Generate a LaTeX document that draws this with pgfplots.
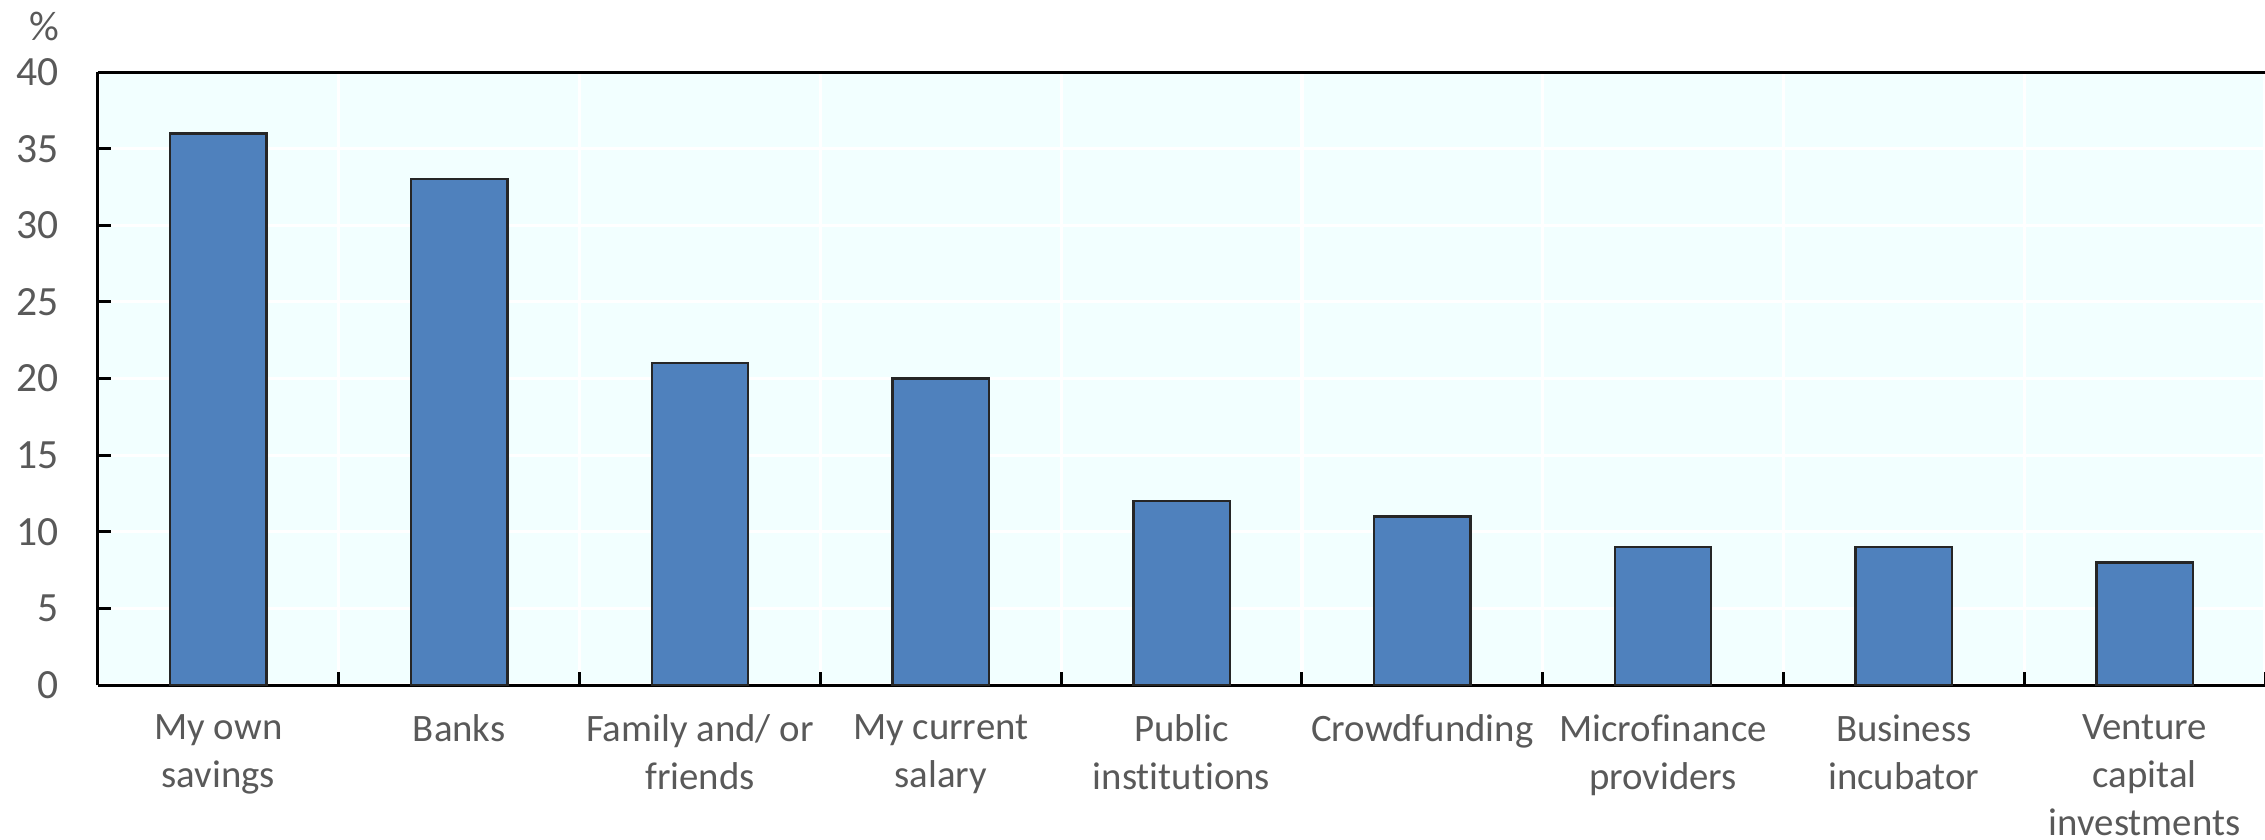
\documentclass[border=0pt]{standalone}
\usepackage{pgfplots}
\pgfplotsset{compat=1.18}
\usepackage{fontspec}
\setmainfont{Carlito}[Ligatures={NoCommon,NoRare,NoContextual}]
\definecolor{bg}{HTML}{F2FFFF}
\definecolor{barblue}{HTML}{4F81BD}
\definecolor{txt}{HTML}{595959}
\begin{document}
\fontsize{9.7}{12}\selectfont
\begin{tikzpicture}
\begin{axis}[
  at={(0,0)}, anchor=south west,
  scale only axis, width=541.75pt, height=153.25pt,
  clip=false,
  xmin=-0.5, xmax=8.5, ymin=0, ymax=40,
  ytick={0,5,...,40},
  xtick={-0.5,0.5,...,8.5},
  x tick label as interval,
  xticklabels={My own\\savings, Banks, Family and/ or\\friends, My current\\salary, Public\\institutions, Crowdfunding, Microfinance\\providers, Business\\incubator, Venture\\capital\\investments},
  xticklabel style={align=center, text=txt, font=\fontsize{9.7}{11.9}\selectfont, inner ysep=0pt, yshift=-7.3pt},
  yticklabel style={text=txt, font=\fontsize{10.4}{12}\selectfont, xshift=-6.5pt},
  /pgf/number format/assume math mode=true,
  axis lines*=left,
  tick align=inside,
  major tick length=3.3pt,
  tick style={black, line width=0.75pt},
  axis line style={black, line width=0.75pt},
  grid=major,
  major grid style={white, line width=0.8pt},
  axis background/.style={fill=bg},
]
\addplot[ybar, bar width=24.1pt, fill=barblue, draw=black!85, line width=0.6pt]
  coordinates {(0,36) (1,33) (2,21) (3,20) (4,12) (5,11) (6,9) (7,9) (8,8)};
\draw[black, line width=0.75pt] (rel axis cs:0,1) -- (rel axis cs:1,1);
\node[text=txt, font=\fontsize{10.4}{12}\selectfont] at (rel axis cs:0,1) [xshift=-13.5pt, yshift=11.5pt] {\%};
\end{axis}
\pgfresetboundingbox
\path (-24.5pt,-38.5pt) rectangle (541.75pt,171.25pt);
\end{tikzpicture}
\end{document}
